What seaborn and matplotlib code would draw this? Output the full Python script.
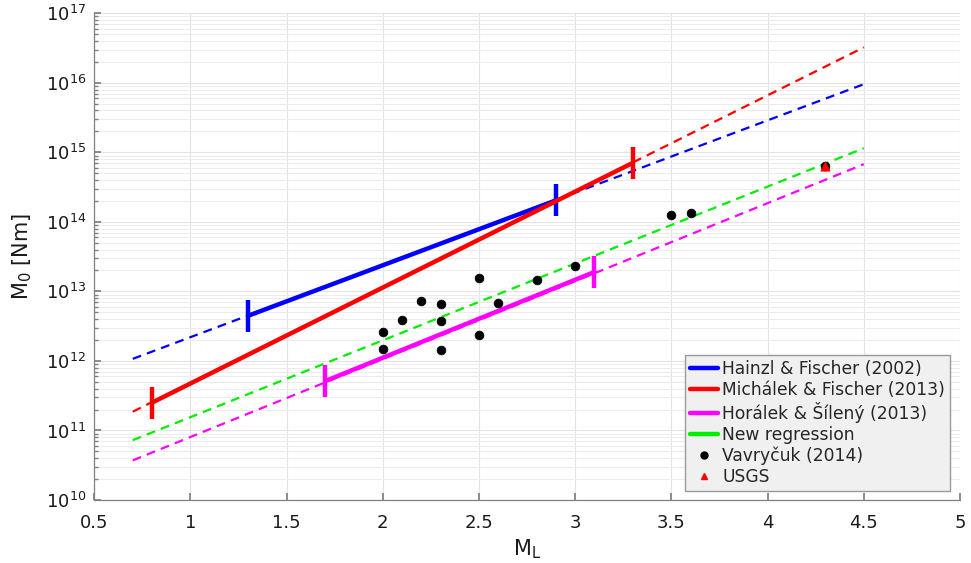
import numpy as np
import pandas as pd
import matplotlib
matplotlib.use("Agg")
import matplotlib.pyplot as plt
from matplotlib.lines import Line2D
import seaborn as sns

# Magnitude scaling relations: local magnitude ML vs log10 of seismic moment M0 [Nm]
# Each relation: full extrapolated range (dashed) and the calibrated range (solid)
hainzl_ml = [0.7, 4.5]
hainzl_log = [12.03, 15.98]
hainzl_fit_ml = [1.3, 2.9]
hainzl_fit_log = [12.65, 14.31]

michalek_ml = [0.7, 4.5]
michalek_log = [11.27, 16.51]
michalek_fit_ml = [0.8, 3.3]
michalek_fit_log = [11.40, 14.85]

horalek_ml = [0.7, 4.5]
horalek_log = [10.57, 14.83]
horalek_fit_ml = [1.7, 3.1]
horalek_fit_log = [11.71, 13.28]

newreg_ml = [0.7, 4.5]
newreg_log = [10.86, 15.06]

# Event catalogue values
vavrycuk_ml = [2.0, 2.0, 2.1, 2.2, 2.3, 2.3, 2.3, 2.5, 2.5, 2.6, 2.8, 3.0, 3.5, 3.6, 4.3]
vavrycuk_log = [12.42, 12.17, 12.59, 12.855, 12.82, 12.58, 12.16, 13.19, 12.375,
                12.84, 13.16, 13.37, 14.10, 14.13, 14.81]
usgs_ml = [4.3]
usgs_log = [14.81]

x_ticks = [0.5, 1, 1.5, 2, 2.5, 3, 3.5, 4, 4.5, 5]
x_tick_labels = ["0.5", "1", "1.5", "2", "2.5", "3", "3.5", "4", "4.5", "5"]

sns.set_theme(style="white")
plt.rcParams["font.family"] = ["DejaVu Sans"]

fig = plt.figure(figsize=(9.71, 5.63), dpi=100)
ax = fig.add_axes([0.0971, 0.1119, 0.8916, 0.8645])

relations = [
    ("Hainzl & Fischer (2002)", "#0000ff", hainzl_ml, hainzl_log, hainzl_fit_ml, hainzl_fit_log),
    ("Michálek & Fischer (2013)", "#ff0000", michalek_ml, michalek_log, michalek_fit_ml, michalek_fit_log),
    ("Horálek & Šílený (2013)", "#ff00ff", horalek_ml, horalek_log, horalek_fit_ml, horalek_fit_log),
    ("New regression", "#00ee00", newreg_ml, newreg_log, None, None),
]

handles = []
for name, color, ml, lg, fml, flg in relations:
    ext = pd.DataFrame({"ML": ml, "M0": np.power(10.0, lg)})
    sns.lineplot(data=ext, x="ML", y="M0", ax=ax, color=color, lw=1.6,
                 zorder=3).lines[-1].set_dashes((4, 2.8))
    if fml is not None:
        fit = pd.DataFrame({"ML": fml, "M0": np.power(10.0, flg)})
        sns.lineplot(data=fit, x="ML", y="M0", ax=ax, color=color, lw=3.2, zorder=4)
        ax.plot(fit["ML"], fit["M0"], ls="none", marker="|", ms=23, mew=3.2,
                color=color, zorder=4)
    handles.append(Line2D([0], [0], color=color, lw=3.2, label=name))

vav = pd.DataFrame({"ML": vavrycuk_ml, "M0": np.power(10.0, vavrycuk_log)})
sns.scatterplot(data=vav, x="ML", y="M0", ax=ax, color="black", s=40,
                edgecolor="black", linewidth=0.5, zorder=5)
usg = pd.DataFrame({"ML": usgs_ml, "M0": np.power(10.0, usgs_log)})
sns.scatterplot(data=usg, x="ML", y="M0", ax=ax, color="red", marker="^", s=45,
                edgecolor="red", linewidth=0.5, zorder=6)

handles.append(Line2D([0], [0], ls="none", marker="o", color="black", ms=5,
                      label="Vavryčuk (2014)"))
handles.append(Line2D([0], [0], ls="none", marker="^", color="red", ms=5,
                      label="USGS"))

ax.set_yscale("log")
ax.set_xlim(0.5, 5)
ax.set_ylim(1e10, 1e17)
ax.set_xticks(x_ticks)
ax.set_xticklabels(x_tick_labels)
ax.set_yticks([10.0 ** k for k in range(10, 18)])

ax.grid(True, which="major", color="#e3e3e3", lw=0.8)
ax.grid(True, which="minor", axis="y", color="#ececec", lw=0.7)
ax.set_axisbelow(True)

for side in ("top", "right"):
    ax.spines[side].set_visible(False)
for side in ("left", "bottom"):
    ax.spines[side].set_color("#808080")
    ax.spines[side].set_linewidth(0.9)

ax.tick_params(which="both", direction="in", left=True, bottom=True,
               colors="#808080", labelcolor="#1a1a1a", labelsize=13)
ax.tick_params(which="major", length=5)
ax.tick_params(which="minor", length=3)
ax.tick_params(axis="x", pad=10)
ax.tick_params(axis="y", pad=6)

ax.set_xlabel(r"$\mathregular{M_L}$", fontsize=15, color="#1a1a1a", labelpad=4)
ax.set_ylabel(r"$\mathregular{M_0}$ [Nm]", fontsize=15, color="#1a1a1a", labelpad=8)

leg = ax.legend(handles=handles, loc="lower right", fontsize=12.3,
                frameon=True, fancybox=False, labelspacing=0.17,
                handlelength=1.6, handletextpad=0.25, borderpad=0.3,
                borderaxespad=0.0, bbox_to_anchor=(0.9885, 0.0185))
leg.get_frame().set_facecolor("#f0f0f0")
leg.get_frame().set_edgecolor("#9a9a9a")
leg.get_frame().set_alpha(1.0)

fig.savefig("out.png", dpi=100)
